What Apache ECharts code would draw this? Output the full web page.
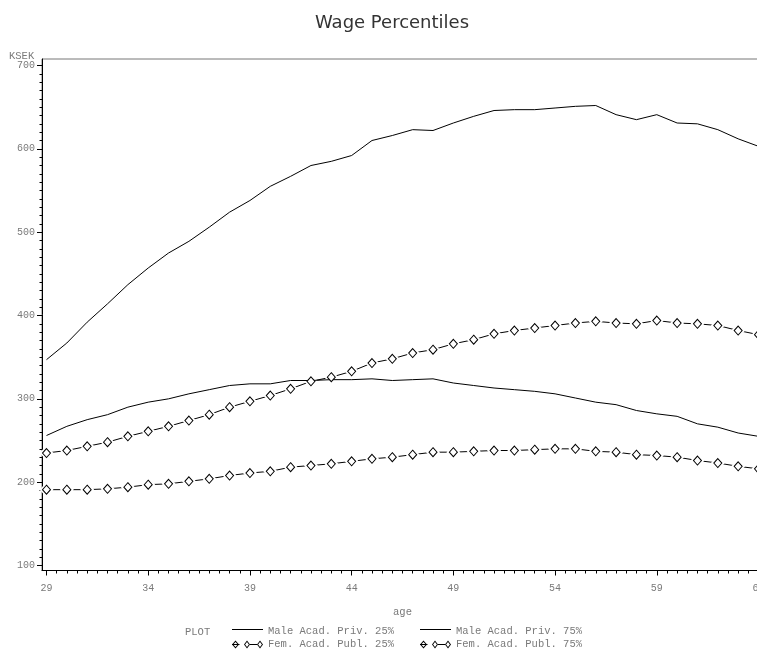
<!DOCTYPE html>
<html>
<head>
<meta charset="utf-8">
<script src="https://cdn.jsdelivr.net/npm/echarts@6/dist/echarts.min.js"></script>
<style>
html,body{margin:0;padding:0;background:#fff;}
#chart{width:757px;height:651px;}
</style>
</head>
<body>
<div id="chart"></div>
<script>
// ---- data ----
const ages = [29,30,31,32,33,34,35,36,37,38,39,40,41,42,43,44,45,46,47,48,49,50,51,52,53,54,55,56,57,58,59,60,61,62,63,64];
const male25 = [256,267,275,281,290,296,300,306,311,316,318,318,322,322,323,323,324,322,323,324,319,316,313,311,309,306,301,296,293,286,282,279,270,266,259,255];
const male75 = [347,367,392,414,437,457,475,489,506,524,538,555,567,580,585,592,610,616,623,622,631,639,646,647,647,649,651,652,641,635,641,631,630,623,612,603];
const fem25 = [191,191,191,192,194,197,198,201,204,208,211,213,218,220,222,225,228,230,233,236,236,237,238,238,239,240,240,237,236,233,232,230,226,223,219,216];
const fem75 = [235,238,243,248,255,261,267,274,281,290,297,304,312,321,326,333,343,348,355,359,366,371,378,382,385,388,391,393,391,390,394,391,390,388,382,377];
const seriesNames = ['Male Acad. Priv. 25%','Fem. Acad. Publ. 25%','Male Acad. Priv. 75%','Fem. Acad. Publ. 75%'];
const xTicks = {min:29, max:64, interval:5};
const yTicks = {min:100, max:700, interval:100};

const pairs = arr => ages.map((a,i)=>[a, arr[i]]);
const mono = 'Liberation Mono';
const gray = '#7a7a7a';

const lineIcon = 'path://M0,1.5H31V2.5H0Z M0,8L31,8Z M0,0L31,0Z';
const femIcon = 'path://M3.5,0L7,4L3.5,8L0,4Z M3.5,1.4L1.2,4L3.5,6.6L5.8,4Z M0,3.6H7.5V4.4H0Z ' +
  'M15,0L18,4L15,8L12,4Z M15,1.4L13.1,4L15,6.6L16.9,4Z M18,3.6H25V4.4H18Z ' +
  'M28,0L31,4L28,8L25,4Z M28,1.4L26.1,4L28,6.6L29.9,4Z';

function plainLine(name, arr, z){
  return {name:name, type:'line', xAxisIndex:0, yAxisIndex:0, data:pairs(arr), symbol:'none',
    lineStyle:{color:'#000', width:1}, itemStyle:{color:'#000'}, z:z, silent:true, clip:false};
}
function maskSeries(name, arr){
  return {name:name, type:'line', xAxisIndex:0, yAxisIndex:0, data:pairs(arr), symbol:'diamond', symbolSize:[14,15],
    showAllSymbol:true, lineStyle:{width:0, opacity:0}, itemStyle:{color:'#fff', borderWidth:0}, z:3, silent:true, clip:false};
}
function markerSeries(name, arr){
  return {name:name, type:'line', xAxisIndex:0, yAxisIndex:0, data:pairs(arr), symbol:'diamond', symbolSize:[8,9],
    showAllSymbol:true, lineStyle:{width:0, opacity:0, color:'#000'}, itemStyle:{color:'#fff', borderColor:'#000', borderWidth:1}, z:5, silent:true, clip:false};
}

const legendText = {fontFamily:mono, fontSize:10.5, color:gray};
function legendData(maleName, femName){
  return [
    {name:maleName, icon:lineIcon, itemStyle:{color:'#000', borderWidth:0}},
    {name:femName, icon:femIcon, itemStyle:{color:'#000', borderWidth:0}}
  ];
}

const option = {
  animation:false,
  backgroundColor:'#fff',
  title:[
    {text:'Wage Percentiles', left:387, top:9, textAlign:'center',
     textStyle:{fontFamily:'DejaVu Sans', fontSize:18, fontWeight:'normal', color:'#333'}},
    {text:'KSEK', left:9, top:51, padding:0, textStyle:{fontFamily:mono, fontSize:10.5, fontWeight:'normal', color:gray}},
    {text:'PLOT', left:185, top:627, padding:0, textStyle:{fontFamily:mono, fontSize:10.5, fontWeight:'normal', color:gray}}
  ],
  legend:[
    {left:232, top:626, orient:'vertical', itemWidth:31, itemHeight:8, itemGap:2, padding:0,
     selectedMode:false, textStyle:legendText, itemStyle:{borderWidth:0}, data:legendData(seriesNames[0], seriesNames[1])},
    {left:420, top:626, orient:'vertical', itemWidth:31, itemHeight:8, itemGap:2, padding:0,
     selectedMode:false, textStyle:legendText, itemStyle:{borderWidth:0}, data:legendData(seriesNames[2], seriesNames[3])}
  ],
  grid:[
    {left:46.5, width:712, top:65.5, height:500, containLabel:false, outerBoundsMode:'none'},
    {left:42, width:720, top:59, height:511.5, show:true, borderColor:'#777', borderWidth:1, backgroundColor:'transparent', outerBoundsMode:'none'}
  ],
  xAxis:[
    {type:'value', gridIndex:0, min:xTicks.min, max:xTicks.max, interval:xTicks.interval, offset:5,
     axisLine:{show:false}, axisTick:{show:true, length:5, lineStyle:{color:'#000'}},
     minorTick:{show:true, splitNumber:10, length:3, lineStyle:{color:'#000'}},
     splitLine:{show:false}, minorSplitLine:{show:false},
     axisLabel:{fontFamily:mono, fontSize:10, color:gray, margin:13, showMaxLabel:true, showMinLabel:true, hideOverlap:false},
     name:'age', nameLocation:'middle', nameGap:36, nameTextStyle:{fontFamily:mono, fontSize:10.5, color:gray}},
    {type:'value', gridIndex:1, min:0, max:1, axisLine:{show:true, onZero:false, lineStyle:{color:'#000', width:1}},
     axisTick:{show:false}, axisLabel:{show:false}, splitLine:{show:false}}
  ],
  yAxis:[
    {type:'value', gridIndex:0, min:yTicks.min, max:yTicks.max, interval:yTicks.interval, offset:4.5,
     axisLine:{show:false}, axisTick:{show:true, length:5, lineStyle:{color:'#000'}},
     minorTick:{show:true, splitNumber:10, length:2.5, lineStyle:{color:'#000'}},
     splitLine:{show:false}, minorSplitLine:{show:false},
     axisLabel:{fontFamily:mono, fontSize:10, color:gray, margin:7}},
    {type:'value', gridIndex:1, min:0, max:1, axisLine:{show:true, onZero:false, lineStyle:{color:'#000', width:1}},
     axisTick:{show:false}, axisLabel:{show:false}, splitLine:{show:false}}
  ],
  series:[
    plainLine('fem25line', fem25, 2),
    plainLine('fem75line', fem75, 2),
    maskSeries('fem25mask', fem25),
    maskSeries('fem75mask', fem75),
    plainLine(seriesNames[0], male25, 4),
    plainLine(seriesNames[2], male75, 4),
    markerSeries(seriesNames[1], fem25),
    markerSeries(seriesNames[3], fem75)
  ]
};
const chart = echarts.init(document.getElementById('chart'), null, {renderer:'canvas'});
chart.setOption(option);
</script>
</body>
</html>
